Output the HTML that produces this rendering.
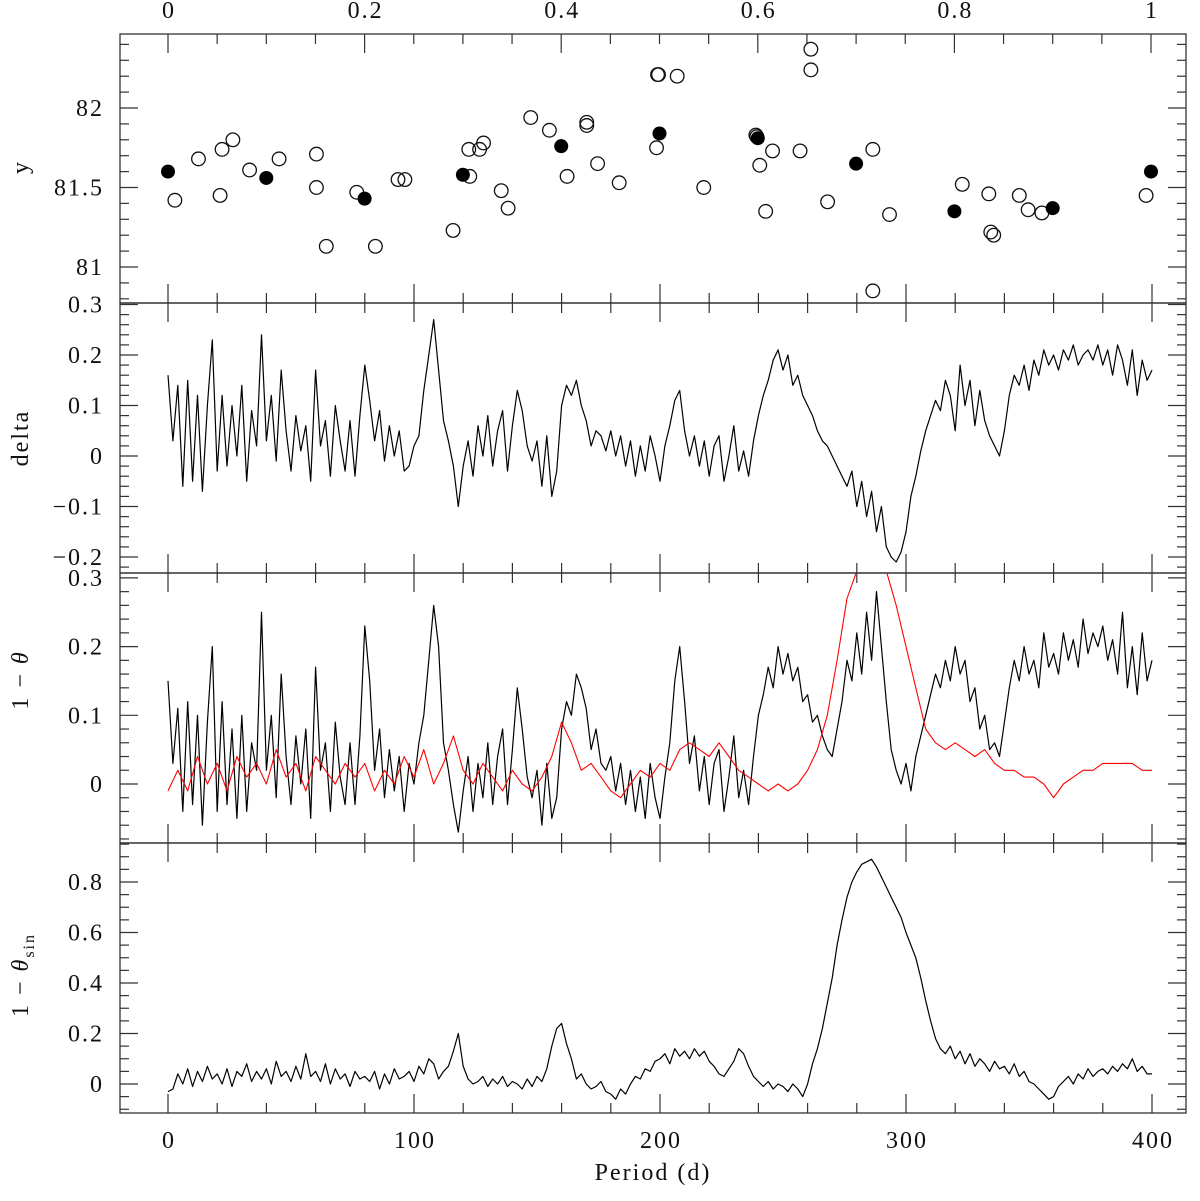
<!DOCTYPE html>
<html><head><meta charset="utf-8"><style>
html,body{margin:0;padding:0;background:#fff;}
svg text{font-family:"Liberation Serif",serif;font-size:24px;letter-spacing:2px;fill:#111;}
</style></head><body>
<svg id="chart" width="1200" height="1196" xmlns="http://www.w3.org/2000/svg"></svg>
<script>
// ---- data ----
const openPhase=[0.007,0.031,0.053,0.055,0.066,0.083,0.113,0.151,0.151,0.161,0.192,0.211,0.234,0.241,0.290,0.306,0.307,0.317,0.321,0.339,0.346,0.369,0.388,0.406,0.426,0.426,0.437,0.459,0.497,0.498,0.499,0.518,0.545,0.598,0.599,0.602,0.608,0.615,0.643,0.654,0.654,0.671,0.717,0.717,0.734,0.808,0.835,0.837,0.840,0.866,0.875,0.889,0.995];
const openMag=[81.42,81.68,81.45,81.74,81.80,81.61,81.68,81.71,81.50,81.13,81.47,81.13,81.55,81.55,81.23,81.74,81.57,81.74,81.78,81.48,81.37,81.94,81.86,81.57,81.91,81.89,81.65,81.53,81.75,82.21,82.21,82.20,81.50,81.83,81.82,81.64,81.35,81.73,81.73,82.37,82.24,81.41,81.74,80.85,81.33,81.52,81.46,81.22,81.20,81.45,81.36,81.34,81.45];
const filledPhase=[0,0.1,0.2,0.3,0.4,0.5,0.6,0.7,0.8,0.9,1.0];
const filledMag=[81.60,81.56,81.43,81.58,81.76,81.84,81.81,81.65,81.35,81.37,81.60];
const periodStep=2;
const deltaVals=[0.16,0.03,0.14,-0.06,0.15,-0.05,0.12,-0.07,0.10,0.23,
-0.03,0.12,-0.02,0.10,0.00,0.14,-0.05,0.09,0.02,0.24,
0.03,0.12,-0.01,0.17,0.05,-0.03,0.08,0.01,0.06,-0.05,
0.17,0.02,0.07,-0.04,0.10,0.03,-0.03,0.07,-0.04,0.08,
0.18,0.11,0.03,0.09,-0.01,0.06,0.00,0.05,-0.03,-0.02,
0.02,0.04,0.13,0.20,0.27,0.17,0.07,0.03,-0.02,-0.10,
-0.02,0.03,-0.04,0.06,0.00,0.08,-0.02,0.05,0.09,-0.03,
0.06,0.13,0.09,0.02,-0.01,0.03,-0.06,0.04,-0.08,-0.03,
0.10,0.14,0.12,0.15,0.10,0.07,0.02,0.05,0.04,0.01,
0.05,0.00,0.04,-0.02,0.03,-0.04,0.02,-0.03,0.04,0.00,
-0.05,0.02,0.06,0.11,0.13,0.05,0.00,0.04,-0.02,0.03,
-0.04,0.02,0.04,-0.05,0.00,0.06,-0.03,0.01,-0.04,0.03,
0.08,0.12,0.15,0.19,0.21,0.17,0.20,0.14,0.16,0.12,
0.10,0.08,0.05,0.03,0.02,0.00,-0.02,-0.04,-0.06,-0.03,
-0.10,-0.05,-0.12,-0.07,-0.15,-0.10,-0.18,-0.20,-0.21,-0.19,
-0.15,-0.08,-0.04,0.01,0.05,0.08,0.11,0.09,0.15,0.12,
0.05,0.18,0.10,0.15,0.06,0.13,0.07,0.04,0.02,0.00,
0.05,0.12,0.16,0.14,0.18,0.13,0.19,0.16,0.21,0.18,
0.20,0.17,0.21,0.19,0.22,0.18,0.20,0.21,0.19,0.22,
0.18,0.21,0.16,0.22,0.19,0.14,0.21,0.12,0.19,0.15,0.17];
const thetaVals=[0.15,0.03,0.11,-0.04,0.12,-0.03,0.10,-0.06,0.09,0.20,
-0.04,0.12,-0.03,0.08,-0.05,0.10,-0.04,0.06,0.02,0.25,
0.02,0.10,-0.02,0.16,0.04,-0.03,0.07,0.00,0.08,-0.05,
0.17,0.02,0.06,-0.04,0.09,0.01,-0.03,0.06,-0.03,0.07,
0.23,0.15,0.02,0.08,-0.02,0.05,-0.01,0.04,-0.04,0.03,
0.00,0.06,0.10,0.18,0.26,0.20,0.06,0.02,-0.03,-0.07,
-0.01,0.04,-0.04,0.03,-0.02,0.06,-0.03,0.04,0.08,-0.03,
0.05,0.14,0.08,0.01,-0.02,0.02,-0.06,0.03,-0.05,-0.02,
0.08,0.12,0.10,0.16,0.14,0.11,0.05,0.08,0.03,0.02,
0.04,-0.01,0.03,-0.03,0.02,-0.04,0.01,-0.05,0.03,-0.02,
-0.05,0.01,0.06,0.15,0.20,0.12,0.03,0.07,-0.01,0.04,
-0.03,0.03,0.05,-0.04,0.01,0.07,-0.02,0.02,-0.03,0.04,
0.10,0.13,0.17,0.14,0.20,0.16,0.19,0.15,0.17,0.12,
0.13,0.09,0.10,0.07,0.05,0.04,0.08,0.12,0.18,0.15,
0.22,0.16,0.25,0.18,0.28,0.20,0.12,0.05,0.02,0.00,
0.03,-0.01,0.04,0.07,0.10,0.13,0.16,0.14,0.18,0.15,
0.20,0.16,0.18,0.12,0.14,0.08,0.10,0.05,0.06,0.04,
0.09,0.14,0.18,0.15,0.20,0.16,0.18,0.14,0.22,0.17,
0.19,0.16,0.22,0.18,0.21,0.17,0.24,0.19,0.22,0.20,
0.23,0.18,0.21,0.16,0.25,0.14,0.20,0.13,0.22,0.15,0.18];
const redStep=4;
const thetaRedVals=[-0.01,0.02,-0.01,0.04,0.00,0.03,-0.01,0.04,0.01,0.03,
0.00,0.05,0.01,0.03,-0.01,0.04,0.02,0.00,0.03,0.01,
0.03,-0.01,0.02,0.00,0.04,0.01,0.05,0.00,0.03,0.07,
0.02,0.00,0.03,0.01,-0.01,0.02,0.00,-0.01,0.01,0.04,
0.09,0.06,0.02,0.03,0.01,-0.01,-0.02,0.00,0.02,0.01,
0.03,0.02,0.05,0.06,0.05,0.04,0.06,0.04,0.02,0.01,
0.00,-0.01,0.00,-0.01,0.00,0.02,0.05,0.10,0.18,0.27,
0.31,0.32,0.32,0.31,0.26,0.20,0.14,0.08,0.06,0.05,
0.06,0.05,0.04,0.05,0.03,0.02,0.02,0.01,0.01,0.00,
-0.02,0.00,0.01,0.02,0.02,0.03,0.03,0.03,0.03,0.02,0.02];
const sinVals=[-0.03,-0.02,0.04,0.00,0.06,-0.01,0.05,0.01,0.07,0.02,
0.04,0.00,0.06,-0.01,0.05,0.03,0.08,0.01,0.05,0.02,
0.06,0.00,0.09,0.03,0.05,0.01,0.07,0.02,0.12,0.03,
0.05,0.01,0.08,0.00,0.06,0.02,0.04,-0.01,0.05,0.02,
0.03,0.01,0.05,-0.02,0.04,0.00,0.06,0.02,0.03,0.05,
0.01,0.07,0.04,0.10,0.08,0.02,0.05,0.07,0.13,0.20,
0.07,0.02,0.00,0.01,0.03,-0.01,0.02,0.00,0.03,-0.01,
0.01,0.00,-0.02,0.02,-0.01,0.03,0.01,0.06,0.15,0.22,
0.24,0.16,0.10,0.02,0.04,0.00,-0.02,-0.01,0.01,-0.03,
-0.04,-0.06,-0.02,-0.04,0.00,0.03,0.02,0.06,0.05,0.09,
0.10,0.12,0.08,0.14,0.11,0.13,0.10,0.14,0.11,0.13,
0.09,0.07,0.04,0.03,0.06,0.09,0.14,0.12,0.07,0.03,
0.01,-0.01,0.01,-0.02,0.00,-0.01,-0.03,0.00,-0.02,-0.05,
0.00,0.08,0.14,0.22,0.32,0.42,0.55,0.65,0.74,0.80,
0.84,0.87,0.88,0.89,0.86,0.82,0.78,0.74,0.70,0.66,
0.60,0.55,0.50,0.42,0.33,0.25,0.18,0.14,0.12,0.15,
0.10,0.13,0.08,0.12,0.07,0.10,0.08,0.05,0.09,0.06,
0.07,0.04,0.08,0.03,0.05,0.01,0.00,-0.02,-0.04,-0.06,
-0.05,-0.01,0.01,0.03,0.00,0.04,0.02,0.06,0.03,0.05,
0.06,0.04,0.07,0.05,0.08,0.06,0.10,0.05,0.07,0.04,0.04];
const periodTicks=[0,100,200,300,400];
const phaseTicks=[0,0.2,0.4,0.6,0.8,1];

// ---- layout ----
const NS='http://www.w3.org/2000/svg';
const svg=document.getElementById('chart');
const L=120,R=1186;
const px=p=>168+(p)*2.46;
const phx=f=>168+f*983;
function mk(tag,attrs,parent){const e=document.createElementNS(NS,tag);for(const k in attrs)e.setAttribute(k,attrs[k]);(parent||svg).appendChild(e);return e;}
function lin(v0,p0,v1,p1){return v=>p0+(v-v0)*(p1-p0)/(v1-v0);}
const panels=[
 {name:'magnitude-panel',top:34,bot:303,y:lin(81,267,82,108),lo:80.77,hi:82.44,maj:0.5,min:0.1,labels:[81,81.5,82]},
 {name:'delta-panel',top:303,bot:573,y:lin(0,456,0.1,405.5),lo:-0.232,hi:0.3,maj:0.1,min:0.02,labels:[-0.2,-0.1,0,0.1,0.2,0.3]},
 {name:'theta-panel',top:573,bot:843,y:lin(0,784,0.1,715.3),lo:-0.088,hi:0.306,maj:0.1,min:0.02,labels:[0,0.1,0.2,0.3]},
 {name:'theta-sin-panel',top:843,bot:1113,y:lin(0,1084,0.8,882),lo:-0.115,hi:0.955,maj:0.2,min:0.05,labels:[0,0.2,0.4,0.6,0.8]}
];
function fmtNum(v){if(Math.abs(v)<1e-9)return '0';let s=(Math.round(v*10)/10).toString();return s.replace('-','\u2212');}

panels.forEach((P,i)=>{
  const g=mk('g',{});
  
  
  const fr=mk('rect',{x:L,y:P.top,width:R-L,height:P.bot-P.top,fill:'none',stroke:'#333','stroke-width':1.3},g);
  
  
  const n0=Math.ceil(P.lo/P.min-1e-6),n1=Math.floor(P.hi/P.min+1e-6);
  for(let n=n0;n<=n1;n++){const v=n*P.min;const y=P.y(v);if(y<P.top-0.5||y>P.bot+0.5)continue;
    const major=Math.abs(v/P.maj-Math.round(v/P.maj))<1e-6;const len=major?18:9;
    mk('line',{x1:L,x2:L+len,y1:y,y2:y,stroke:'#333','stroke-width':1.2},g);
    mk('line',{x1:R,x2:R-len,y1:y,y2:y,stroke:'#333','stroke-width':1.2},g);}
  P.labels.forEach(v=>{const t=mk('text',{x:104,y:P.y(v)+8,'text-anchor':'end'},g);t.textContent=i===0?String(v):fmtNum(v);
    });
  for(let d=0;d<=400;d+=20){const x=px(d);const major=d%100===0;const len=major?19:10;
    if(i>0){mk('line',{x1:x,x2:x,y1:P.top,y2:P.top+len,stroke:'#333','stroke-width':1.2},g);}
    mk('line',{x1:x,x2:x,y1:P.bot,y2:P.bot-len,stroke:'#333','stroke-width':1.2},g);}
  if(i===0){for(let k=0;k<=20;k++){const f=k*0.05;const x=phx(f);const major=k%4===0;const len=major?19:10;
    mk('line',{x1:x,x2:x,y1:P.top,y2:P.top+len,stroke:'#333','stroke-width':1.2},g);}}
});
phaseTicks.forEach(f=>{const t=mk('text',{x:phx(f)+1,y:18,'text-anchor':'middle'});t.textContent=String(f);
  });
periodTicks.forEach(d=>{const t=mk('text',{x:px(d)+1,y:1148,'text-anchor':'middle'});t.textContent=String(d);
  });
const xt=mk('text',{x:653,y:1180,'text-anchor':'middle'});xt.textContent='Period (d)';


function ytitle(y,html,name){const t=mk('text',{transform:`translate(28,${y}) rotate(-90)`,'text-anchor':'middle'});t.innerHTML=html;
  }
ytitle(167,'y','y-axis-title-magnitude');
ytitle(438,'delta','y-axis-title-delta');
ytitle(680,'1 \u2212 <tspan font-style="italic">\u03b8</tspan>','y-axis-title-theta');
ytitle(975,'1 \u2212 <tspan font-style="italic">\u03b8</tspan><tspan font-size="16" dy="6">sin</tspan>','y-axis-title-theta-sin');

const defs=mk('defs',{});
panels.forEach((P,i)=>{const c=mk('clipPath',{id:'clip'+i},defs);mk('rect',{x:L,y:P.top,width:R-L,height:P.bot-P.top},c);});

const P0=panels[0];
openPhase.forEach((f,k)=>{const c=mk('circle',{cx:phx(f),cy:P0.y(openMag[k]),r:6.8,fill:'none',stroke:'#111','stroke-width':1.3,'clip-path':'url(#clip0)'});
  });
filledPhase.forEach((f,k)=>{const c=mk('circle',{cx:phx(f),cy:P0.y(filledMag[k]),r:7,fill:'#000'});
  });

function series(vals,step,P,i,color,name,w){const d=vals.map((v,k)=>(k?'L':'M')+px(k*step).toFixed(1)+','+P.y(v).toFixed(1)).join('');
  const p=mk('path',{d:d,fill:'none',stroke:color,'stroke-width':w,'stroke-linejoin':'round','clip-path':`url(#clip${i})`});
  }
series(deltaVals,periodStep,panels[1],1,'#000','delta-line',1.2);
series(thetaVals,periodStep,panels[2],2,'#000','theta-line',1.2);
series(thetaRedVals,redStep,panels[2],2,'#ff0000','theta-red-line',1.1);
series(sinVals,periodStep,panels[3],3,'#000','theta-sin-line',1.2);
</script>
</body></html>
